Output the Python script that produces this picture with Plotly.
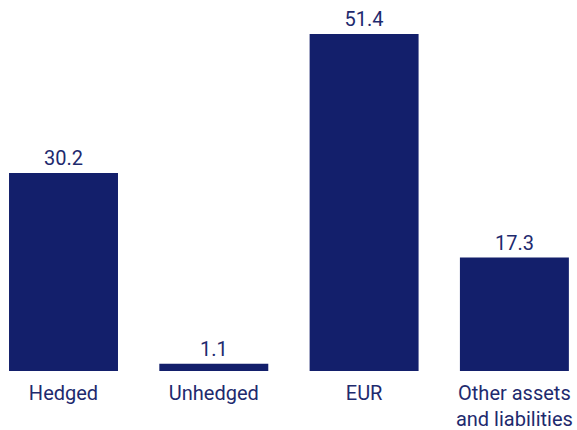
import plotly.graph_objects as go

categories = ["Hedged", "Unhedged", "EUR", "Other assets<br>and liabilities"]
values = [30.2, 1.1, 51.4, 17.3]
labels = ["30.2", "1.1", "51.4", "17.3"]

bar_color = "#131f6b"
text_color = "#1e2a6e"
font_family = "Roboto, Noto Sans, sans-serif"

fig = go.Figure(
    go.Bar(
        x=list(range(len(categories))),
        y=values,
        width=0.725,
        marker=dict(color=bar_color, line=dict(width=0)),
        text=labels,
        textposition="outside",
        textfont=dict(color=text_color, size=20, family=font_family),
        cliponaxis=False,
        hoverinfo="skip",
    )
)

fig.update_layout(
    width=577,
    height=430,
    margin=dict(l=0, r=0, t=0, b=59),
    paper_bgcolor="white",
    plot_bgcolor="white",
    showlegend=False,
    font=dict(family=font_family, color=text_color, size=20),
    xaxis=dict(
        range=[-0.4225, 3.4165],
        tickmode="array",
        tickvals=list(range(len(categories))),
        ticktext=categories,
        showgrid=False,
        zeroline=False,
        showline=False,
        ticks="",
        ticklabelstandoff=8,
        automargin=False,
        tickfont=dict(size=20, color=text_color, family=font_family),
        fixedrange=True,
    ),
    yaxis=dict(
        range=[0, 56.6],
        visible=False,
        showgrid=False,
        zeroline=False,
        automargin=False,
        fixedrange=True,
    ),
)

fig.write_html(
    "out.html",
    config={"displayModeBar": False},
    post_script="document.body.style.margin='0';document.body.style.overflow='hidden';",
)
